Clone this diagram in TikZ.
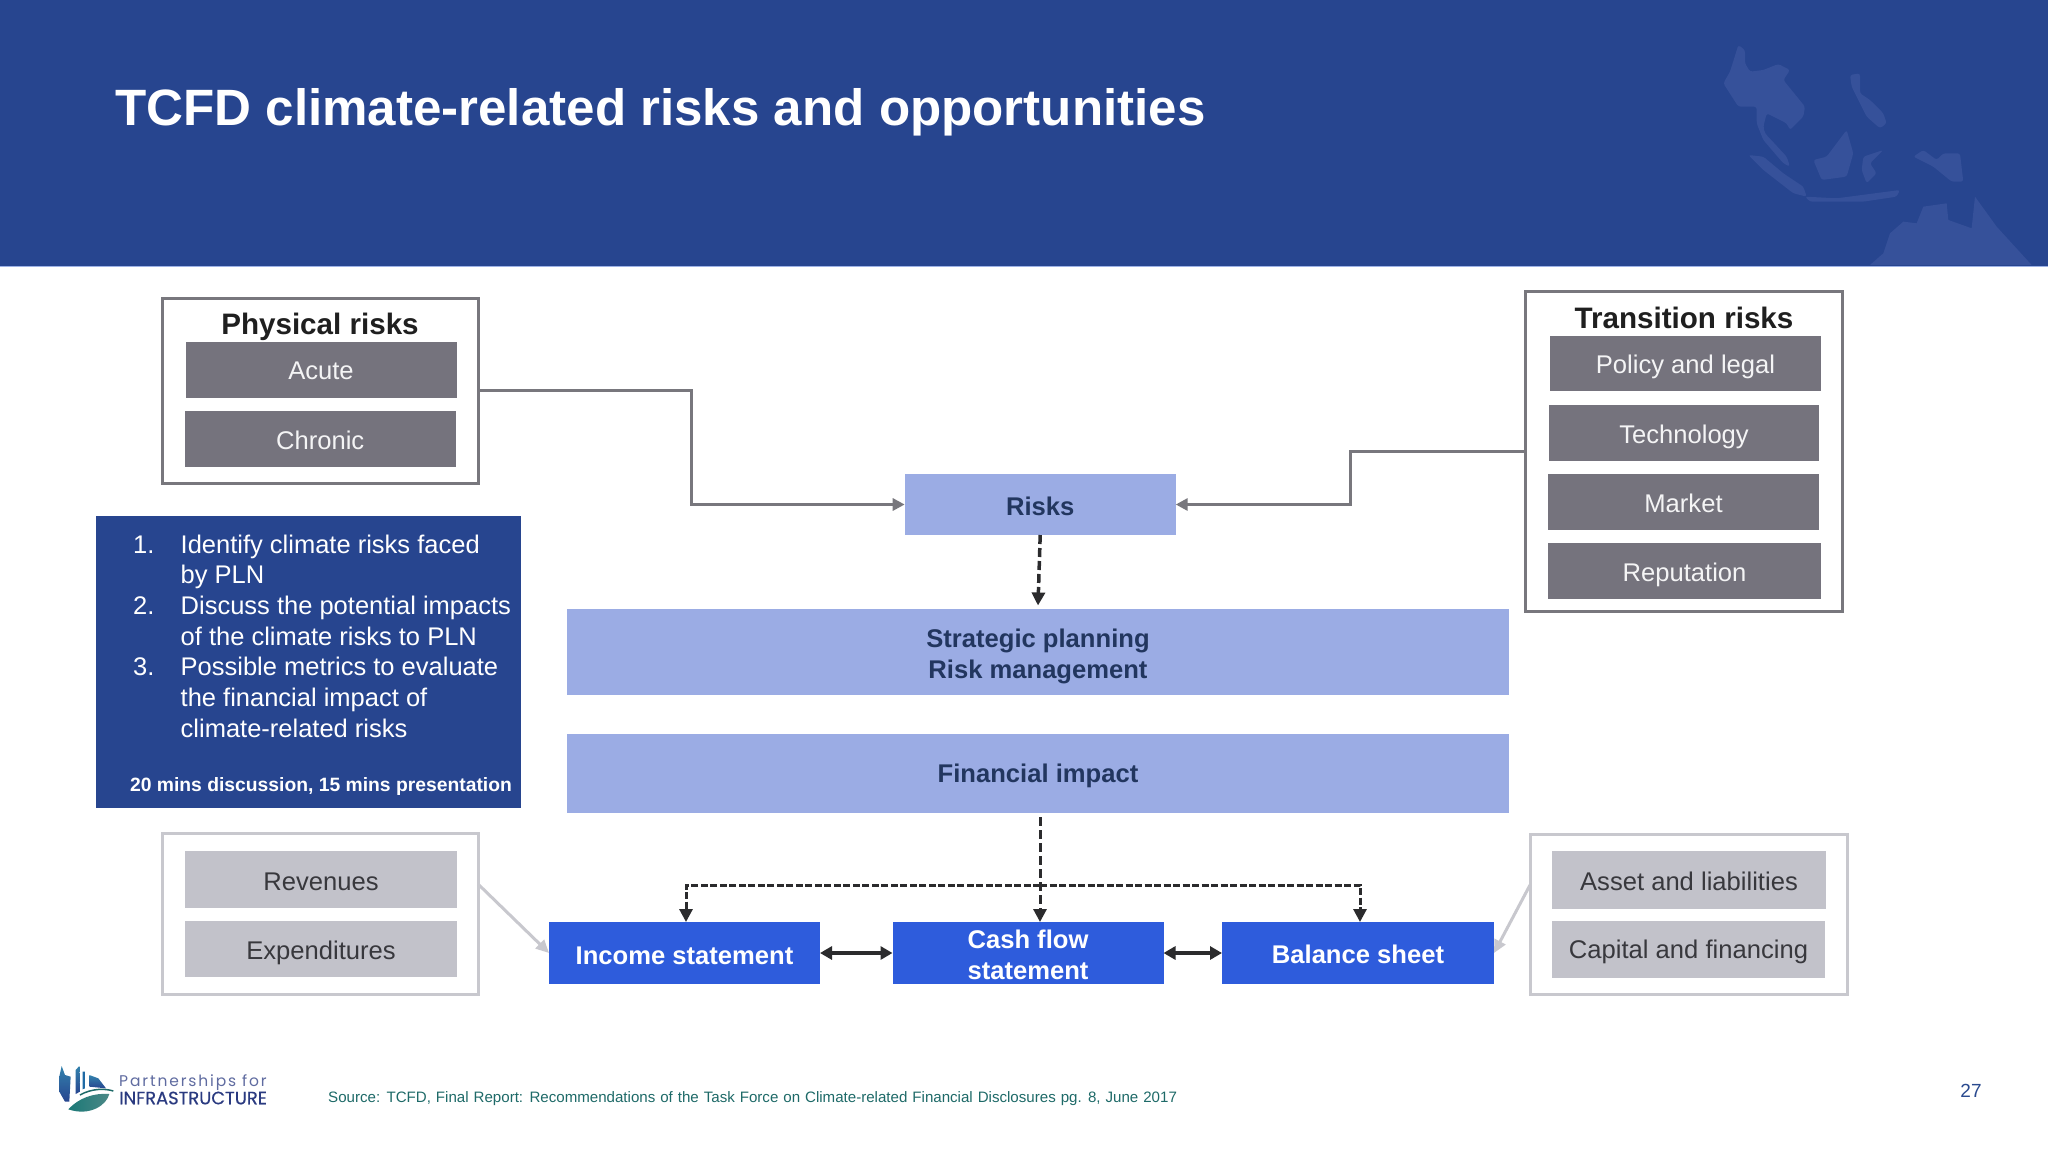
\documentclass[tikz,border=0pt]{standalone}
\usepackage{fontspec}
\setmainfont{Liberation Sans}
\newfontfamily\logofont{Poppins}
\newfontfamily\logomid[FakeBold=0.5]{Poppins}
\usetikzlibrary{arrows.meta}
\definecolor{headbg}{HTML}{27458F}
\definecolor{mapc}{HTML}{36519A}
\definecolor{headline}{HTML}{9DB2E6}
\definecolor{darkg}{HTML}{75737D}
\definecolor{lightg}{HTML}{C2C2CA}
\definecolor{framed}{HTML}{78777D}
\definecolor{framel}{HTML}{C8C8CE}
\definecolor{periw}{HTML}{9BACE4}
\definecolor{royal}{HTML}{2E5CDC}
\definecolor{navy}{HTML}{22365F}
\definecolor{logoblue}{HTML}{2A3A80}
\definecolor{pageblue}{HTML}{2A4A8F}
\definecolor{teal}{HTML}{1E6A68}
\definecolor{inkd}{HTML}{2B2B2D}
\definecolor{inkl}{HTML}{38383D}
\newcommand{\fs}[1]{\fontsize{#1}{#1}\selectfont}
\newcommand{\ib}{\hspace*{47pt}}
\newcommand{\nm}[1]{\makebox[47pt][l]{\hspace*{-.5pt}#1}}
\newcommand{\lowr}[2]{\raisebox{-#1pt}[\height][\depth]{#2}}
\tikzset{
  bx/.style 2 args={minimum width=#1pt,minimum height=#2pt,inner sep=0pt,outer sep=0pt,align=center},
  framebox/.style={draw=framed,line width=3pt,fill=white},
  framelight/.style={draw=framel,line width=3pt,fill=white},
  darkbox/.style={fill=darkg,text=white!92!darkg,font=\fs{25.6}},
  lightbox/.style={fill=lightg,text=inkl,font=\fs{25.6}},
  peribox/.style={fill=periw,text=navy,font=\bfseries\fs{25.6},align=center},
  royalbox/.style={fill=royal,text=white,font=\bfseries\fs{25.6},align=center},
  grayconn/.style={draw=framed,line width=3pt,-{Triangle[length=12pt,width=12pt]}},
  lightconn/.style={draw=framel,line width=3pt,-{Triangle[length=13pt,width=12pt]}},
  dashconn/.style={draw=inkd,line width=3.5pt,dash pattern=on 9pt off 4pt,-{Triangle[length=13pt,width=13pt]}},
  dbl/.style={draw=inkd,line width=3.5pt,{Triangle[length=12pt,width=13pt]}-{Triangle[length=12pt,width=13pt]}},
  heading/.style={inner sep=0pt,text=black!88,font=\bfseries\fs{29.6}},
  mapland/.style={fill=mapc,draw=none,rounded corners=2.5pt}
}
\begin{document}
\begin{tikzpicture}[x=1pt,y=-1pt]
\useasboundingbox (0,0) rectangle (2048,1152);
\fill[white] (0,0) rectangle (2048,1152);
% header
\fill[headbg] (0,0) rectangle (2048,266);
\fill[headline] (0,265.5) rectangle (2048,267);
% faint map
\begin{scope}[shift={(1650,0)},x=.3333pt,y=-.3333pt]
\fill[mapland] (240,215)--(265,135)--(285,150)--(285,190)--(300,215)--(340,210)--(385,192)--(420,210)--(400,240)--(465,320)--(460,350)--(420,390)--(410,370)--(350,340)--(340,380)--(345,400)--(410,470)--(420,500)--(400,490)--(340,420)--(320,370)--(320,320)--(265,320)--(220,250)--cycle;
\fill[mapland] (295,465)--(340,470)--(400,520)--(460,560)--(470,590)--(430,580)--(340,510)--cycle;
\fill[mapland] (465,590)--(560,595)--(750,570)--(740,590)--(640,605)--(480,605)--cycle;
\fill[mapland] (490,480)--(530,470)--(590,390)--(610,460)--(590,530)--(515,540)--cycle;
\fill[mapland] (600,225)--(630,220)--(630,280)--(660,300)--(700,340)--(710,370)--(690,385)--(650,350)--(620,290)--(605,260)--cycle;
\fill[mapland] (640,470)--(700,450)--(660,490)--(680,520)--(650,550)--(635,510)--cycle;
\fill[mapland] (790,470)--(820,450)--(860,480)--(880,460)--(930,460)--(940,545)--(905,545)--(850,500)--cycle;
\fill[mapland,rounded corners=0pt] (660,795)--(700,760)--(720,700)--(760,665)--(800,670)--(820,620)--(890,610)--(895,660)--(965,685)--(975,590)--(1040,680)--(1145,795)--cycle;
\end{scope}
\node[anchor=west,inner sep=0pt,text=white,font=\bfseries\fs{51.1}] (title) at (115,112.5) {TCFD climate-related risks and opportunities};

% physical
\node[framebox,bx={316}{185}] (phys) at (320,390.5) {};
\node[heading] (physT) at (320,327) {Physical risks};
\node[darkbox,bx={271}{56}] (acute) at (321,369.7) {\lowr{1.5}{Acute}};
\node[darkbox,bx={271}{56}] (chronic) at (320.2,438.5) {\lowr{1.5}{Chronic}};
% transition
\node[framebox,bx={317}{320}] (trans) at (1683.5,451) {};
\node[heading] (transT) at (1684,318) {Transition risks};
\node[darkbox,bx={271}{55}] (policy) at (1685.5,363) {\lowr{4}{Policy and legal}};
\node[darkbox,bx={270}{56}] (tech) at (1684,432.5) {\lowr{4}{Technology}};
\node[darkbox,bx={271}{56}] (market) at (1683.5,501.5) {\lowr{1.5}{Market}};
\node[darkbox,bx={273}{56}] (reput) at (1684.5,570.5) {\lowr{4}{Reputation}};
% centre
\node[peribox,bx={271}{61}] (risks) at (1040.2,504.5) {\lowr{1.5}{Risks}};
\node[peribox,bx={942}{86}] (strat) at (1038,652) {\lowr{4}{Strategic planning}\\[5.4pt]\lowr{4}{Risk management}};
\node[peribox,bx={942}{79}] (fin) at (1038,773) {\lowr{3}{Financial impact}};
% panel
\node[fill=headbg,bx={425}{292}] (panel) at (308,661.5) {};
\node[anchor=north west,inner sep=0pt,align=left,text=white,font=\fontsize{25.5}{30.7}\selectfont] (listT) at (133.5,534.5) {%
\nm{1.}Identify climate risks faced\\
\ib by PLN\\
\nm{2.}Discuss the potential impacts\\
\ib of the climate risks to PLN\\
\nm{3.}Possible metrics to evaluate\\
\ib the financial impact of\\
\ib climate-related risks};
\node[inner sep=0pt,text=white,font=\bfseries\fs{19.3}] (panelB) at (321,786) {20 mins discussion, 15 mins presentation};
% statements
\node[royalbox,bx={271}{62}] (income) at (684.5,953) {\lowr{2.6}{Income statement}};
\node[royalbox,bx={271}{62}] (cash) at (1028,953) {\lowr{1.5}{Cash flow}\\[4.6pt]\lowr{2.6}{statement}};
\node[royalbox,bx={272}{62}] (balance) at (1358,953) {\lowr{1.5}{Balance sheet}};
% bottom boxes
\node[framelight,bx={316}{161}] (rev) at (320,913.5) {};
\node[lightbox,bx={272}{57}] (revenues) at (321,879.5) {\lowr{2.6}{Revenues}};
\node[lightbox,bx={272}{56}] (expend) at (321,949) {\lowr{4}{Expenditures}};
\node[framelight,bx={317}{160}] (right) at (1688.5,914) {};
\node[lightbox,bx={274}{58}] (asset) at (1689,880) {\lowr{1.5}{Asset and liabilities}};
\node[lightbox,bx={273}{57}] (capital) at (1688.5,949.5) {\lowr{2.6}{Capital and financing}};
% connectors
\draw[grayconn] (phys.east) -- ++(213,0) |- (risks.west);
\draw[grayconn] (trans.west) -- ++(-175,0) |- (risks.east);
\draw[dashconn] (risks.south) -- ([yshift=3.5pt]strat.north);
\coordinate (split) at (1040,817);
\coordinate (hub) at (1040,885);
\draw[dashconn,line width=3pt] (split) -- (split |- cash.north);
\draw[dashconn,line width=3pt,dash pattern=on 7pt off 2.5pt] (hub) -| ([xshift=1.5pt]income.north);
\draw[dashconn,line width=3pt,dash pattern=on 7pt off 2.5pt] (hub) -| ([xshift=2pt]balance.north);
\draw[dbl] (income.east) -- (cash.west);
\draw[dbl] (cash.east) -- (balance.west);
\draw[lightconn] ([yshift=29.5pt]rev.east) -- (income.west);
\draw[lightconn] ([yshift=29pt]right.west) -- (balance.east);
% logo
\begin{scope}[shift={(0,1020)},x=.3333pt,y=-.3333pt]
\shade[top color=blue!35!cyan!60!black!80,bottom color=headbg] (178,170)--(185,138)--(195,165)--(212,170)--(208,245)--(195,245)--(178,215)--cycle;
\shade[top color=blue!35!cyan!60!black!80,bottom color=headbg] (227,150)--(238,138)--(240,215)--(227,222)--cycle;
\fill[headbg!80!cyan] (248,155)--(255,155)--(255,205)--(248,208)--cycle;
\shade[top color=blue!35!cyan!60!black!80,bottom color=headbg] (268,165)--(295,175)--(318,205)--(268,200)--cycle;
\shade[left color=teal!90!cyan,right color=teal!80!white] (205,268)..controls (235,235) and (280,218)..(328,222)..controls (320,255) and (270,290)..(205,268)--cycle;
\draw[teal,line width=1.5pt] (240,225)..controls (275,205) and (315,205)..(340,213);
\end{scope}
\node[anchor=west,inner sep=0pt,text=logoblue!75!white,font=\logofont\fs{15.5}\addfontfeature{LetterSpace=12}] (logoA) at (119,1082.5) {Partnerships for};
\node[anchor=west,inner sep=0pt,text=logoblue,font=\logomid\fs{17.9}] (logoB) at (119,1098) {INFRASTRUCTURE};
% footer
\node[anchor=west,inner sep=0pt,text=teal,font=\fs{15.1}] (source) at (328,1098.5) {\spaceskip=4.95pt\relax Source: TCFD, Final Report: Recommendations of the Task Force on Climate-related Financial Disclosures pg. 8, June 2017};
\node[inner sep=0pt,text=pageblue,font=\fs{19}] (pageno) at (1971,1091) {27};
\end{tikzpicture}
\end{document}
